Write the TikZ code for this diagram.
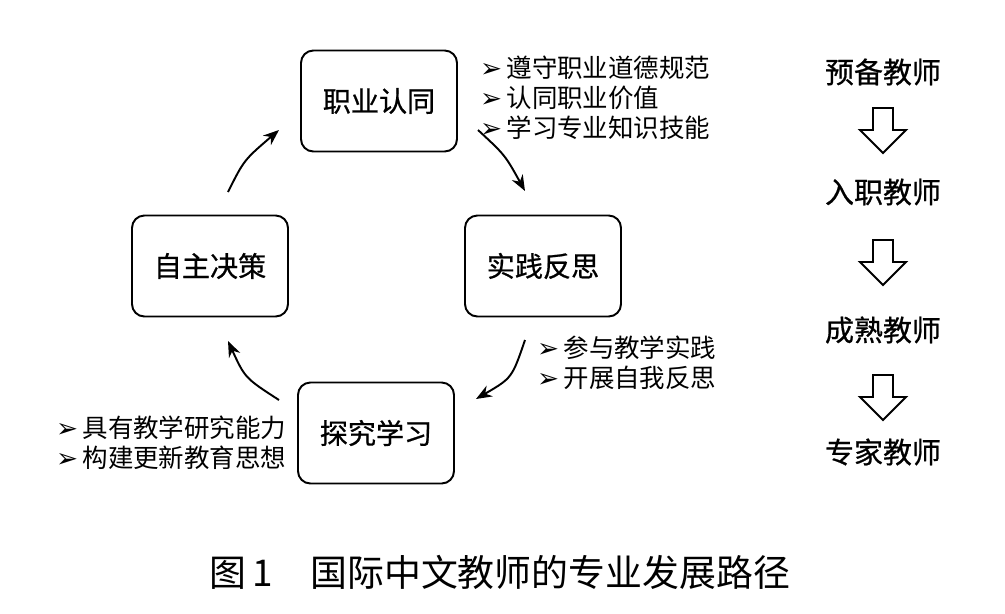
\documentclass[tikz,border=0pt]{standalone}
\usepackage{fontspec}
\setmainfont{Noto Sans CJK SC}
\newfontfamily\heavy[FakeBold=0.7]{Noto Sans CJK SC}
\newfontfamily\symfont{DejaVu Sans}
\usetikzlibrary{arrows.meta, positioning}

\newcommand{\bul}{{\symfont\fontsize{15}{15}\selectfont ➢}\,}

\begin{document}
\begin{tikzpicture}[x=0.02cm, y=-0.02cm,
  stage/.style={draw, line width=1.1pt, rounded corners=7pt,
    minimum width=3.12cm, minimum height=2.02cm,
    font=\heavy\fontsize{16}{18}\selectfont},
  notes/.style={anchor=west, align=left,
    font=\fontsize{14.5}{17}\selectfont},
  level/.style={font=\heavy\fontsize{16.5}{18}\selectfont},
  flow/.style={-{Stealth[length=9pt,width=7pt]}, line width=1.1pt},
  down/.style={line width=1.1pt, line join=miter}]
\useasboundingbox (0,0) rectangle (1005,613);

% cycle
\node[stage] (zy) at (379,101) {职业认同};
\node[stage] (sj) at (543,266) {实践反思};
\node[stage] (zz) at (210,266) {自主决策};
\node[stage] (tj) at (376,433) {探究学习};

\node[notes] (zyN) at (474,98) {\bul 遵守职业道德规范\\ \bul 认同职业价值\\ \bul 学习专业知识技能};
\node[notes] (sjN) at (531,363) {\bul 参与教学实践\\ \bul 开展自我反思};
\node[notes] (tjN) at (50,443) {\bul 具有教学研究能力\\ \bul 构建更新教育思想};

\coordinate (a1) at (228,192); \coordinate (a2) at (279,130);
\coordinate (b1) at (478,130); \coordinate (b2) at (525,191);
\coordinate (c1) at (525,340); \coordinate (c2) at (476,399);
\coordinate (d1) at (279,400); \coordinate (d2) at (228,341);
\draw[flow] (a1) .. controls (244,160) .. (a2);
\draw[flow] (b1) .. controls (505,155) .. (b2);
\draw[flow] (c1) .. controls (512,378) .. (c2);
\draw[flow] (d1) .. controls (245,378) .. (d2);

% stages of teachers
\node[level] (p1) at (883,72) {预备教师};
\node[level] (p2) at (883,192) {入职教师};
\node[level] (p3) at (883,330) {成熟教师};
\node[level] (p4) at (883,452) {专家教师};
\foreach \y in {108,240,375}
  \draw[down] (873,\y) -- (893,\y) -- (893,\y+22) -- (906,\y+22)
    -- (883,\y+45) -- (860,\y+22) -- (873,\y+22) -- cycle;

\node[font=\fontsize{21}{24}\selectfont] (cap) at (500,572)
  {图\,1\quad 国际中文教师的专业发展路径};
\end{tikzpicture}
\end{document}
